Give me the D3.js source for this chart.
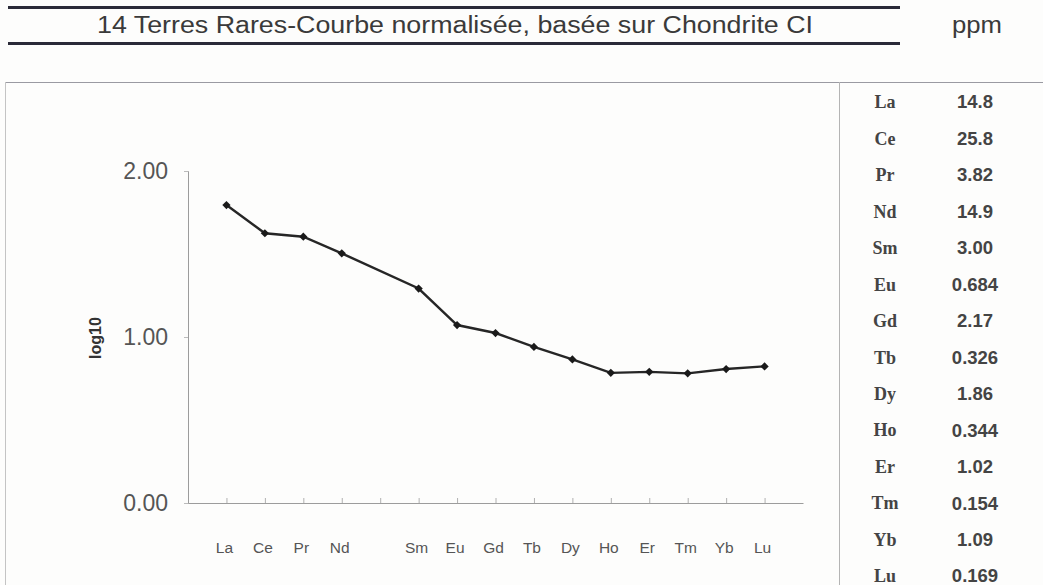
<!DOCTYPE html>
<html>
<head>
<meta charset="utf-8">
<script src="https://cdn.jsdelivr.net/npm/d3@7"></script>
<style>
  html, body { margin: 0; padding: 0; background: #fdfdfc; }
  svg { display: block; }
</style>
</head>
<body>
<svg id="chart" width="1043" height="585"></svg>
<script>
// Rare earth elements, plotted in order (Pm has a slot on the axis but no value)
const axisSlots = ["", "La", "Ce", "Pr", "Nd", "Pm", "Sm", "Eu", "Gd", "Tb", "Dy", "Ho", "Er", "Tm", "Yb", "Lu", ""];
const elements = ["La", "Ce", "Pr", "Nd", "Sm", "Eu", "Gd", "Tb", "Dy", "Ho", "Er", "Tm", "Yb", "Lu"];
// Measured concentrations, ppm
const ppm = ["14.8", "25.8", "3.82", "14.9", "3.00", "0.684", "2.17", "0.326", "1.86", "0.344", "1.02", "0.154", "1.09", "0.169"];
// log10 of chondrite-normalised concentrations
const logNorm = [1.795, 1.625, 1.604, 1.504, 1.292, 1.072, 1.024, 0.940, 0.865, 0.784, 0.790, 0.781, 0.807, 0.823];
const yTicks = [0, 1, 2];

const svg = d3.select("#chart");
const sans = "Liberation Sans, Arial, sans-serif";

// Header rules and title
svg.append("line").attr("x1", 8).attr("x2", 900).attr("y1", 7.5).attr("y2", 7.5)
  .attr("stroke", "#2a2a38").attr("stroke-width", 2.8);
svg.append("line").attr("x1", 8).attr("x2", 900).attr("y1", 43.5).attr("y2", 43.5)
  .attr("stroke", "#2a2a38").attr("stroke-width", 2.8);
svg.append("text").attr("x", 97).attr("y", 33)
  .attr("font-family", "Liberation Sans Narrow, " + sans).attr("font-size", 23)
  .attr("fill", "#3a3a3a")
  .attr("textLength", 716).attr("lengthAdjust", "spacingAndGlyphs")
  .text("14 Terres Rares-Courbe normalisée, basée sur Chondrite CI");
svg.append("text").attr("x", 952).attr("y", 33)
  .attr("font-family", "Liberation Sans Narrow, " + sans).attr("font-size", 23)
  .attr("fill", "#3a3a3a")
  .attr("textLength", 50).attr("lengthAdjust", "spacingAndGlyphs")
  .text("ppm");

// Frame around the chart and table
svg.append("line").attr("x1", 5).attr("x2", 1043).attr("y1", 82.5).attr("y2", 82.5)
  .attr("stroke", "#9a9aa2").attr("stroke-width", 1.2);
svg.append("line").attr("x1", 5.5).attr("x2", 5.5).attr("y1", 82).attr("y2", 585)
  .attr("stroke", "#c4c4c4").attr("stroke-width", 1);
svg.append("line").attr("x1", 839.5).attr("x2", 839.5).attr("y1", 82).attr("y2", 585)
  .attr("stroke", "#b4b4b4").attr("stroke-width", 1);

// Scales
const x = d3.scalePoint().domain(d3.range(axisSlots.length)).range([188, 803]);
const y = d3.scaleLinear().domain([0, 2]).range([503, 171]);

// Y axis
const yAxis = svg.append("g").attr("transform", "translate(188,0)")
  .call(d3.axisLeft(y).tickValues(yTicks).tickFormat(d3.format(".2f")).tickSize(4).tickPadding(16));
yAxis.select(".domain").attr("stroke", "#9c9c9c").attr("stroke-width", 1);
yAxis.selectAll(".tick line").attr("stroke", "#bbb");
yAxis.selectAll(".tick text")
  .attr("font-family", sans).attr("font-size", 23)
  .attr("fill", "#555");

svg.append("text")
  .attr("transform", "translate(95,338) rotate(-90)")
  .attr("text-anchor", "middle").attr("dy", "0.35em")
  .attr("font-family", sans).attr("font-size", 16)
  .attr("font-weight", "bold").attr("fill", "#333")
  .text("log10");

// X axis with inward ticks
const xAxis = svg.append("g").attr("transform", "translate(0,503)")
  .call(d3.axisBottom(x).tickValues(d3.range(1, axisSlots.length - 1))
    .tickSizeInner(-5).tickSizeOuter(0).tickFormat(() => ""));
xAxis.select(".domain").attr("stroke", "#9c9c9c").attr("stroke-width", 1);
xAxis.selectAll(".tick line").attr("stroke", "#b0b0b0");

svg.append("g").selectAll("text")
  .data(axisSlots.map((s, i) => ({ s, i })).filter(d => d.s && d.s !== "Pm"))
  .join("text")
  .attr("x", d => x(d.i) - 2).attr("y", 553)
  .attr("text-anchor", "middle")
  .attr("font-family", sans).attr("font-size", 15.5)
  .attr("fill", "#555")
  .text(d => d.s);

// Normalised REE curve
const pts = elements.map((e, k) => ({ e, v: logNorm[k], i: axisSlots.indexOf(e) }));
svg.append("path")
  .datum(pts)
  .attr("fill", "none").attr("stroke", "#262626").attr("stroke-width", 2.4)
  .attr("d", d3.line().x(d => x(d.i)).y(d => y(d.v)));

svg.append("g").selectAll("path")
  .data(pts)
  .join("path")
  .attr("transform", d => `translate(${x(d.i)},${y(d.v)}) rotate(45)`)
  .attr("d", d3.symbol(d3.symbolSquare, 34))
  .attr("fill", "#1a1a1a");

// Concentration table
const rowY = d3.scalePoint().domain(elements).range([102, 576]);
const table = svg.append("g");
table.selectAll("text.el")
  .data(elements)
  .join("text").attr("class", "el")
  .attr("x", 885).attr("y", d => rowY(d)).attr("dy", "0.35em")
  .attr("text-anchor", "middle")
  .attr("font-family", "Liberation Serif, Times New Roman, serif").attr("font-size", 18)
  .attr("font-weight", "bold").attr("fill", "#444")
  .text(d => d);
table.selectAll("text.val")
  .data(ppm)
  .join("text").attr("class", "val")
  .attr("x", 975).attr("y", (d, k) => rowY(elements[k])).attr("dy", "0.35em")
  .attr("text-anchor", "middle")
  .attr("font-family", sans).attr("font-size", 18.5)
  .attr("font-weight", "bold").attr("fill", "#444")
  .text(d => d);
</script>
</body>
</html>
